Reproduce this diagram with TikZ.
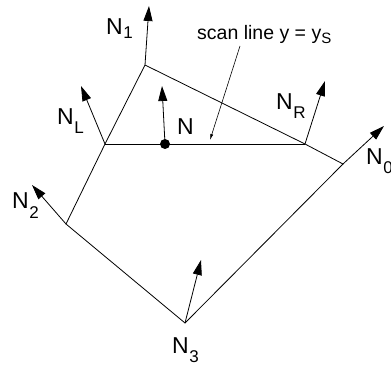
\documentclass[tikz,border=0pt]{standalone}
\usepackage{fontspec}
\setmainfont{Liberation Sans}
\usetikzlibrary{arrows.meta}
\newcommand{\Nlab}[2]{N\kern0.5pt\raisebox{-#2}{\fontsize{17}{17}\selectfont #1}}
\tikzset{
  edge/.style={line width=0.8pt},
  normal/.style={line width=0.8pt,-{Triangle[length=15pt,width=9pt]}},
  pointer/.style={line width=0.6pt,-{Latex[length=6pt,width=3pt]}},
  lab/.style={font=\fontsize{23}{23}\selectfont,inner sep=0pt,anchor=base west},
  small/.style={font=\fontsize{19.5}{19.5}\selectfont,inner sep=0pt,anchor=base west}
}
\begin{document}
\begin{tikzpicture}[x=1pt,y=-1pt]
\useasboundingbox (0,0) rectangle (391,366);
\clip (0,0) rectangle (391,366);
% vertices
\coordinate (P1) at (145,65);
\coordinate (PL) at (105,144);
\coordinate (PR) at (305,144);
\coordinate (P0) at (343,164);
\coordinate (P2) at (66,224);
\coordinate (P3) at (185,323);
\coordinate (Pn) at (165,144);
% normal tips
\coordinate (T1) at (149,6);
\coordinate (TL) at (81,86);
\coordinate (Tn) at (162,86);
\coordinate (TR) at (325,81);
\coordinate (T0) at (384,126);
\coordinate (T2) at (32,185);
\coordinate (T3) at (201,260);
% polygon
\draw[edge] (P1) -- (PL) -- (P2) -- (P3) -- (P0) -- (PR) -- (P1);
\draw[edge] (PL) -- (PR);
% normals
\draw[normal] (P1) -- (T1);
\draw[normal] (PL) -- (TL);
\draw[normal] (Pn) -- (Tn);
\draw[normal] (PR) -- (TR);
\draw[normal] (P0) -- (T0);
\draw[normal] (P2) -- (T2);
\draw[normal] (P3) -- (T3);
\fill (Pn) circle (5);
% labels
\node[lab] (l1) at (106,34.5) {\Nlab{1}{4.5pt}};
\node[lab] (lL) at (57,125) {\Nlab{L}{9pt}};
\node[lab] (ln) at (177,135) {N};
\node[lab] (lR) at (276,110) {\Nlab{R}{9pt}};
\node[lab] (l0) at (366,165) {\Nlab{0}{9pt}};
\node[lab] (l2) at (12,209) {\Nlab{2}{9.5pt}};
\node[lab] (l3) at (172,353) {\Nlab{3}{9.5pt}};
\node[small] (scan) at (197,40) {scan line y = y\raisebox{-4pt}{\fontsize{15}{15}\selectfont S}};
\coordinate (s0) at (240,46);
\coordinate (s1) at (210,140);
\draw[pointer] (s0) -- (s1);
\end{tikzpicture}
\end{document}
